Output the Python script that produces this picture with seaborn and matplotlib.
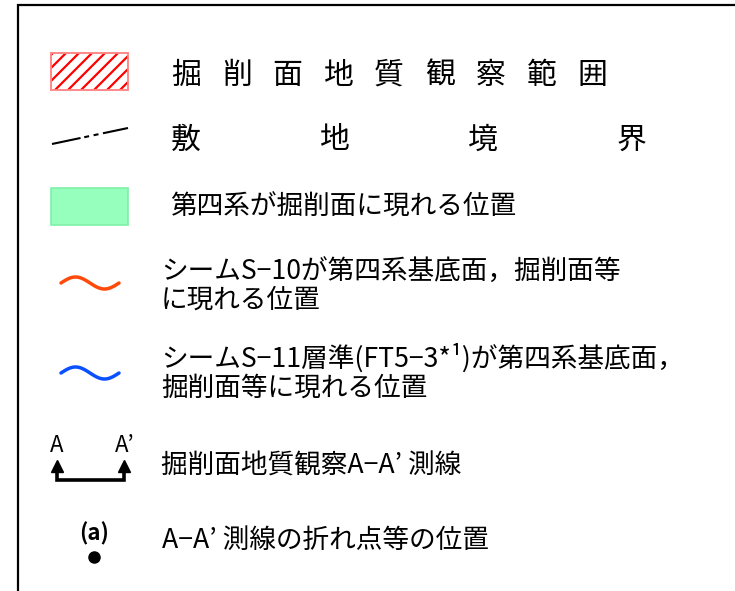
import numpy as np
import pandas as pd
import matplotlib
matplotlib.use("Agg")
import matplotlib.pyplot as plt
from matplotlib.patches import Rectangle
import seaborn as sns

sns.set_theme(style="white")
plt.rcParams['font.family'] = ['Noto Sans CJK JP', 'DejaVu Sans']

# ---- legend content ----
row1_chars = list("掘削面地質観察範囲")
row2_chars = list("敷地境界")
row3_text = "第四系が掘削面に現れる位置"
row4_lines = ["シームS−10が第四系基底面，掘削面等", "に現れる位置"]
row5_lines = ["シームS−11層準(FT5−3*¹)が第四系基底面，", "掘削面等に現れる位置"]
row6_text = "掘削面地質観察A−A’ 測線"
row7_text = "A−A’ 測線の折れ点等の位置"
arrow_labels = ["A", "A’"]
point_label = "(a)"

hatch_color = "#FF0000"
green_color = "#96FFBE"
orange_color = "#FF4A0A"
blue_color = "#0A50FF"

FS_BIG = 21.5
FS = 19.2

fig = plt.figure(figsize=(7.35, 5.91), dpi=100)
ax = fig.add_axes([0, 0, 1, 1])
ax.set_xlim(0, 735)
ax.set_ylim(591, 0)
ax.axis("off")

# frame (left and top edges visible)
ax.plot([18, 18, 740], [600, 4.5, 4.5], color="black", lw=1.6, solid_joinstyle="miter")

# row 1: hatched rectangle
rx, ry, rw, rh = 51, 53, 77, 37
rect = Rectangle((rx, ry), rw, rh, facecolor="white", edgecolor="#FF8A8A", lw=1.3, zorder=2)
ax.add_patch(rect)
for x0 in np.arange(rx - rh, rx + rw + 2, 13):
    ln, = ax.plot([x0, x0 + rh + 4], [ry + rh + 2, ry - 2], color=hatch_color, lw=1.6, zorder=3)
    ln.set_clip_path(rect)
ax.add_patch(Rectangle((rx, ry), rw, rh, facecolor="none", edgecolor="#FF8A8A", lw=1.3, zorder=4))
for i, ch in enumerate(row1_chars):
    ax.text(171 + i * 50.8, 75, ch, fontsize=FS_BIG, ha="left", va="center", color="black")

# row 2: boundary dash line
bd = pd.DataFrame({"x": [52, 128], "y": [144, 128]})
sns.lineplot(data=bd, x="x", y="y", ax=ax, color="black", lw=1.5,
             dashes=False, estimator=None, sort=False)
ax.lines[-1].set_dashes([14, 1.8, 2.4, 2.2, 2.4, 2.2, 20, 1])
for i, ch in enumerate(row2_chars):
    ax.text(171 + i * 148.5, 140, ch, fontsize=FS_BIG, ha="left", va="center", color="black")

# row 3: green rectangle
ax.add_patch(Rectangle((51, 188), 77, 37, facecolor=green_color, edgecolor="#7FF0A8", lw=1.2))
ax.text(170, 207, row3_text, fontsize=FS, ha="left", va="center", color="black")

# rows 4 and 5: waves
t = np.linspace(0, 2 * np.pi, 80)
for cy, col in [(283, orange_color), (373, blue_color)]:
    wave = pd.DataFrame({"x": 61 + t / (2 * np.pi) * 58, "y": cy - 6 * np.sin(t)})
    sns.lineplot(data=wave, x="x", y="y", ax=ax, color=col, lw=2.5,
                 estimator=None, sort=False)
ax.text(161, 272, row4_lines[0], fontsize=FS, ha="left", va="center", color="black")
ax.text(161, 300, row4_lines[1], fontsize=FS, ha="left", va="center", color="black")
ax.text(161, 358, row5_lines[0], fontsize=FS, ha="left", va="center", color="black")
ax.text(161, 388, row5_lines[1], fontsize=FS, ha="left", va="center", color="black")

# row 6: section line bracket
ax.plot([57, 57, 124.5, 124.5], [468, 480, 480, 468], color="black", lw=2.6,
        solid_joinstyle="miter", solid_capstyle="butt")
ax.plot([57, 124.5], [466, 466], ls="none", marker="^", ms=9, color="black")
ax.text(57, 446, arrow_labels[0], fontsize=16, ha="center", va="center", color="black")
ax.text(125, 446, arrow_labels[1], fontsize=16, ha="center", va="center", color="black")
ax.text(161, 466, row6_text, fontsize=FS, ha="left", va="center", color="black")

# row 7: break point
ax.text(94, 534, point_label, fontsize=16, ha="center", va="center", color="black",
        fontweight="bold")
ax.plot([94], [557], ls="none", marker="o", ms=8, color="black")
ax.text(162, 540, row7_text, fontsize=FS, ha="left", va="center", color="black")

fig.savefig("out.png", dpi=100, facecolor="white")
